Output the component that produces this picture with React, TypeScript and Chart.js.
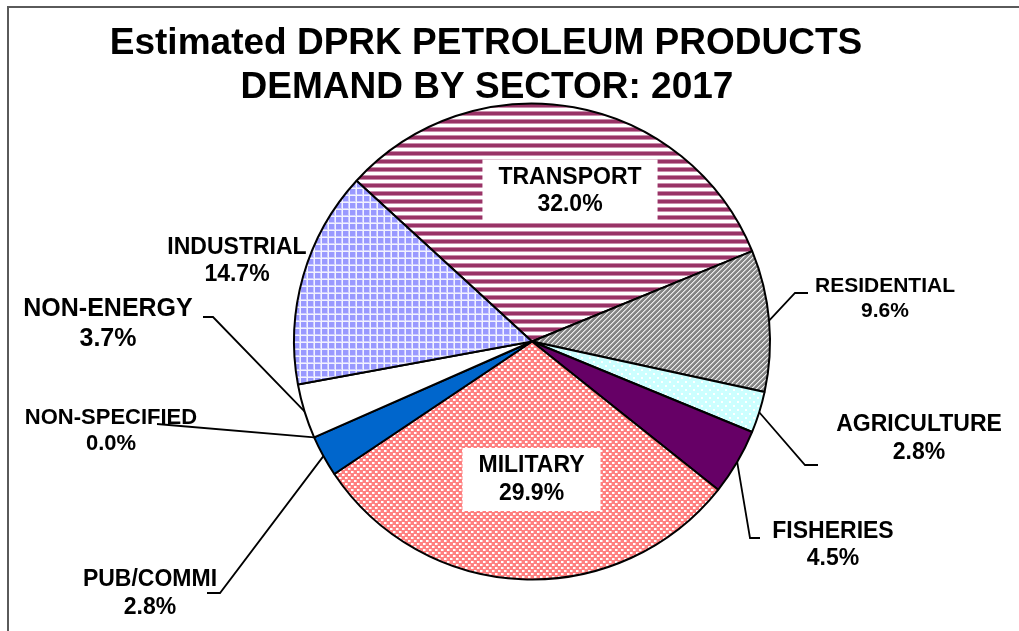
import React, { useEffect, useRef } from "react";
import { Chart, registerables } from "chart.js";

Chart.register(...registerables);

// ---- data ----
const categories = [
  "TRANSPORT",
  "RESIDENTIAL",
  "AGRICULTURE",
  "FISHERIES",
  "MILITARY",
  "PUB/COMMI",
  "NON-SPECIFIED",
  "NON-ENERGY",
  "INDUSTRIAL",
];
const shares = [32.0, 9.6, 2.8, 4.5, 29.9, 2.8, 0.0, 3.7, 14.7];
const titleLines = ["Estimated DPRK PETROLEUM PRODUCTS", "DEMAND BY SECTOR: 2017"];

// ---- label layout (offsets from pie centre, px) ----
type LabelCfg = { dx: number; dy: number; size: number; box?: boolean; leader?: number[][] };
const labelLayout: LabelCfg[] = [
  { dx: 38, dy: -150.5, size: 23, box: true },
  { dx: 353, dy: -42.5, size: 21, leader: [[263, -48.5], [276, -48.5]] },
  { dx: 387, dy: 97, size: 23, leader: [[273, 123.5], [286, 123.5]] },
  { dx: 301, dy: 203.5, size: 23, leader: [[218, 196.5], [228, 196.5]] },
  { dx: -0.5, dy: 138, size: 23, box: true },
  { dx: -382, dy: 252, size: 23, leader: [[-312, 251.5], [-325, 251.5]] },
  { dx: -421, dy: 89.5, size: 22, leader: [[-375, 82.5]] },
  { dx: -424, dy: -17.5, size: 25, leader: [[-319, -24.5], [-329, -24.5]] },
  { dx: -295, dy: -80.5, size: 23 },
];

const FONT = '"Liberation Sans", Arial, Helvetica, sans-serif';

function makePattern(w: number, h: number, draw: (g: CanvasRenderingContext2D) => void) {
  const c = document.createElement("canvas");
  c.width = w;
  c.height = h;
  const g = c.getContext("2d")!;
  draw(g);
  return g.createPattern(c, "repeat")!;
}

function px(g: CanvasRenderingContext2D, x: number, y: number, col: string, w = 1, h = 1) {
  g.fillStyle = col;
  g.fillRect(x, y, w, h);
}

function buildFills() {
  const transport = makePattern(1, 8, (g) => {
    const rows = ["#993366", "#993366", "#993366", "#c98cab", "#ffffff", "#ffffff", "#ffffff", "#c98cab"];
    rows.forEach((c, i) => px(g, 0, i, c));
  });
  const residential = makePattern(5, 5, (g) => {
    px(g, 0, 0, "#858585", 5, 5);
    for (let i = 0; i < 5; i++) {
      px(g, i, 4 - i, "#ececec");
      px(g, i, (5 - i) % 5, "#bdbdbd");
    }
  });
  const agriculture = makePattern(8, 8, (g) => {
    px(g, 0, 0, "#ccffff", 8, 8);
    px(g, 1, 1, "#ffffff", 2, 2);
    px(g, 5, 5, "#ffffff", 2, 2);
  });
  const military = makePattern(6, 6, (g) => {
    px(g, 0, 0, "#ff8080", 6, 6);
    px(g, 0, 0, "#ffffff", 2, 2);
    px(g, 3, 3, "#ffffff", 2, 2);
    px(g, 2, 0, "#ffc0c0", 1, 2);
    px(g, 5, 3, "#ffc0c0", 1, 2);
  });
  const industrial = makePattern(7, 7, (g) => {
    px(g, 0, 0, "#9999ff", 7, 7);
    px(g, 5, 0, "#ccccff", 1, 7);
    px(g, 0, 5, "#ccccff", 7, 1);
    px(g, 6, 0, "#f2f2ff", 1, 7);
    px(g, 0, 6, "#f2f2ff", 7, 1);
  });
  return [
    transport,
    residential,
    agriculture,
    "#660066",
    military,
    "#0066cc",
    "#ffffff",
    "#ffffff",
    industrial,
  ];
}

const decorPlugin = {
  id: "decor",
  afterDatasetsDraw(chart: any) {
    const ctx: CanvasRenderingContext2D = chart.ctx;
    const meta = chart.getDatasetMeta(0);
    ctx.save();
    meta.data.forEach((arc: any, i: number) => {
      const cfg = labelLayout[i];
      if (!cfg) return;
      const { x: cx, y: cy, startAngle, endAngle, outerRadius } = arc.getProps(
        ["x", "y", "startAngle", "endAngle", "outerRadius"],
        true
      );
      const mid = (startAngle + endAngle) / 2;
      if (cfg.leader) {
        ctx.beginPath();
        ctx.moveTo(cx + Math.cos(mid) * outerRadius, cy + Math.sin(mid) * outerRadius);
        cfg.leader.forEach(([lx, ly]) => ctx.lineTo(cx + lx, cy + ly));
        ctx.strokeStyle = "#000";
        ctx.lineWidth = 1.8;
        ctx.stroke();
      }
      const lines = [categories[i], shares[i].toFixed(1) + "%"];
      ctx.font = `bold ${cfg.size}px ${FONT}`;
      const lh = cfg.size * 1.2;
      const lx = cx + cfg.dx;
      const ly = cy + cfg.dy;
      if (cfg.box) {
        const w = Math.max(...lines.map((t) => ctx.measureText(t).width)) + 32;
        const h = 63;
        ctx.fillStyle = "#ffffff";
        ctx.fillRect(lx - w / 2, ly - h / 2, w, h);
      }
      ctx.fillStyle = "#000";
      ctx.textAlign = "center";
      ctx.textBaseline = "middle";
      ctx.fillText(lines[0], lx, ly - lh / 2);
      ctx.fillText(lines[1], lx, ly + lh / 2);
    });
    ctx.restore();
  },
  afterDraw(chart: any) {
    const ctx: CanvasRenderingContext2D = chart.ctx;
    ctx.save();
    ctx.strokeStyle = "#5a5a5a";
    ctx.lineWidth = 2;
    ctx.beginPath();
    ctx.moveTo(8, 631);
    ctx.lineTo(8, 7);
    ctx.lineTo(1019, 7);
    ctx.stroke();
    ctx.fillStyle = "#000";
    ctx.font = `bold 37px ${FONT}`;
    ctx.textAlign = "center";
    ctx.textBaseline = "alphabetic";
    ctx.fillText(titleLines[0], 486, 54);
    ctx.fillText(titleLines[1], 487, 98);
    ctx.restore();
  },
};

export default function App() {
  const ref = useRef<HTMLCanvasElement>(null);
  useEffect(() => {
    const canvas = ref.current!;
    const chart = new Chart(canvas, {
      type: "pie",
      data: {
        labels: categories,
        datasets: [
          {
            data: shares,
            backgroundColor: buildFills() as any,
            borderColor: "#000000",
            borderWidth: 2,
            radius: 238,
          } as any,
        ],
      },
      options: {
        responsive: false,
        animation: false,
        events: [],
        rotation: -47.5,
        layout: { padding: { left: 45, right: 0, top: 52, bottom: 0 } },
        plugins: {
          legend: { display: false },
          tooltip: { enabled: false },
          title: { display: false },
        },
      },
      plugins: [decorPlugin],
    });
    return () => chart.destroy();
  }, []);
  return (
    <div style={{ position: "absolute", left: 0, top: 0, width: 1019, height: 631, background: "#fff" }}>
      <canvas ref={ref} width={1019} height={631} style={{ display: "block", width: 1019, height: 631 }} />
    </div>
  );
}
